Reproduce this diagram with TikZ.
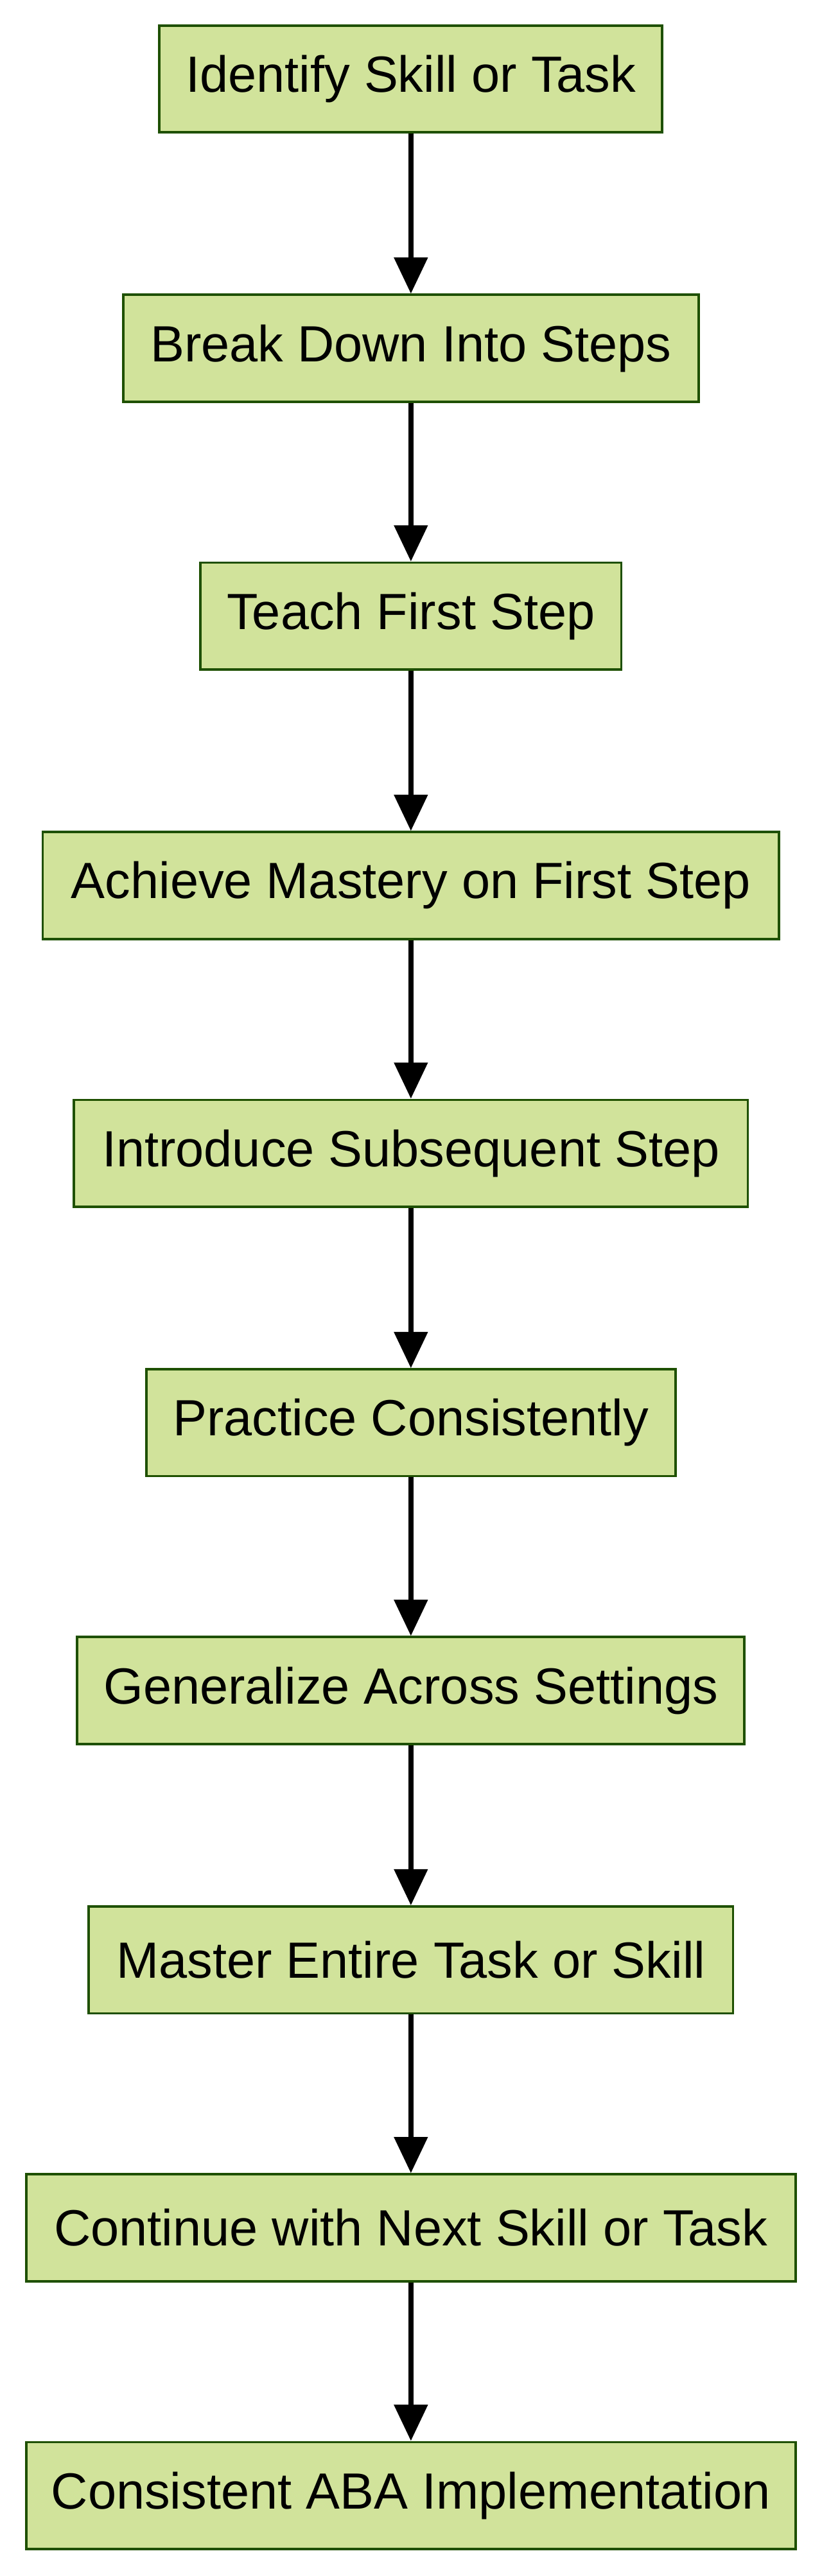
\documentclass[tikz,border=0pt]{standalone}
\usepackage{fontspec}
\setmainfont{Liberation Sans}
\usetikzlibrary{arrows.meta}
\definecolor{boxfill}{HTML}{D1E39B}
\definecolor{boxdraw}{HTML}{1E5000}
\begin{document}
\begin{tikzpicture}[x=1pt,y=-1pt,
  box/.style={draw=boxdraw,fill=boxfill,line width=1.5pt,minimum height=65pt,inner sep=0pt,font=\fontsize{31}{36}\selectfont},
  arr/.style={line width=3pt,-{Triangle[length=22pt,width=20pt]}}]
\useasboundingbox[fill=white] (0,0) rectangle (500,1568);
\node[box,minimum width=306pt] (n1) at (250,48) {Identify Skill or Task};
\node[box,minimum width=350pt] (n2) at (250,212) {Break Down Into Steps};
\node[box,minimum width=256pt] (n3) at (250,375) {Teach First Step};
\node[box,minimum width=448pt] (n4) at (250,539) {Achieve Mastery on First Step};
\node[box,minimum width=410pt] (n5) at (250,702) {Introduce Subsequent Step};
\node[box,minimum width=322pt] (n6) at (250,866) {Practice Consistently};
\node[box,minimum width=406pt] (n7) at (250,1029) {Generalize Across Settings};
\node[box,minimum width=392pt] (n8) at (250,1193) {Master Entire Task or Skill};
\node[box,minimum width=468pt] (n9) at (250,1356) {Continue with Next Skill or Task};
\node[box,minimum width=468pt] (n10) at (250,1519) {Consistent ABA Implementation};
\foreach \a/\b in {n1/n2,n2/n3,n3/n4,n4/n5,n5/n6,n6/n7,n7/n8,n8/n9,n9/n10}
  \draw[arr] (\a.south) -- (\b.north);
\end{tikzpicture}
\end{document}
